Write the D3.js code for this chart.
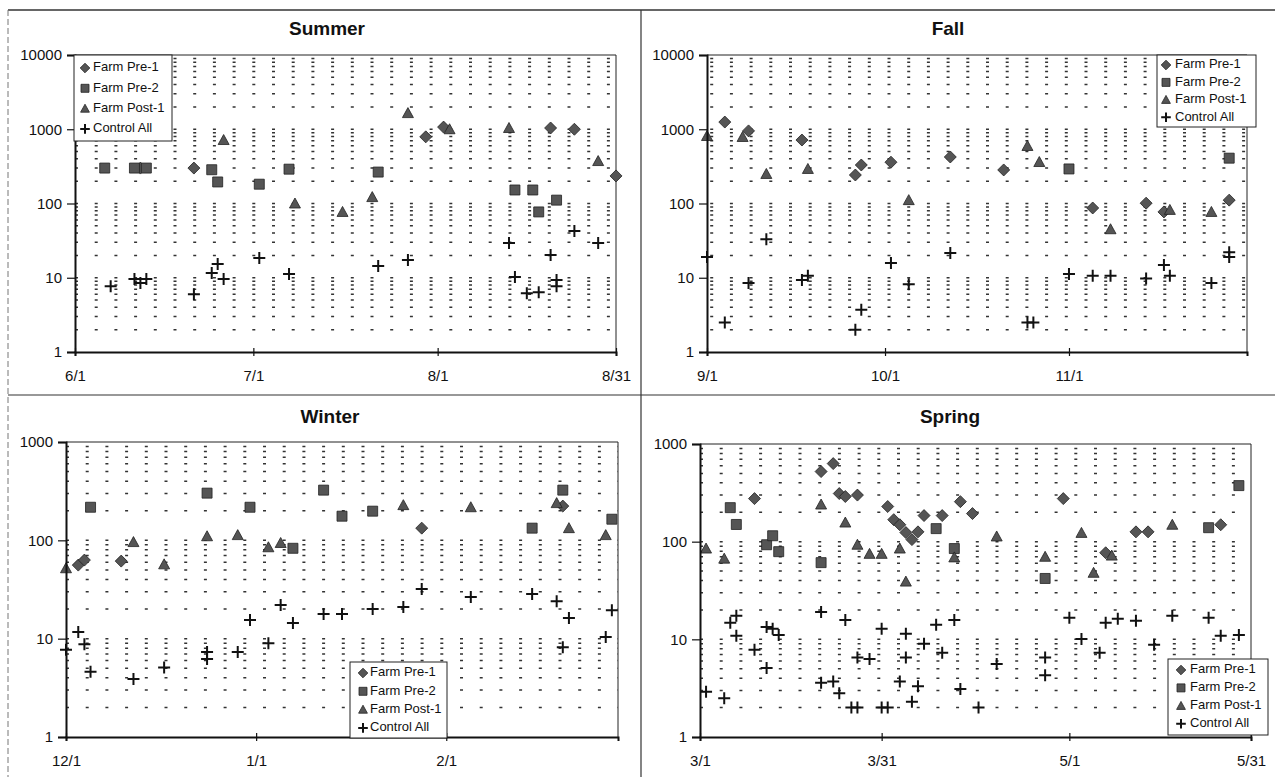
<!DOCTYPE html>
<html>
<head>
<meta charset="utf-8">
<script src="https://cdnjs.cloudflare.com/ajax/libs/d3/7.8.5/d3.min.js"></script>
<style>
body { margin: 0; background: #fff; }
svg { display: block; font-family: "Liberation Sans", Arial, sans-serif; }
</style>
</head>
<body>
<svg width="1275" height="777"></svg>
<script>
const seriesNames = ['Farm Pre-1', 'Farm Pre-2', 'Farm Post-1', 'Control All']

// [date, value]
const summerPre1 = [['6/12', 300], ['6/21', 300], ['7/30', 790], ['8/2', 1070], ['8/20', 1040], ['8/24', 1000], ['8/31', 235]]
const summerPre2 = [['6/6', 300], ['6/11', 300], ['6/13', 300], ['6/24', 285], ['6/25', 195], ['7/2', 182], ['7/7', 290], ['7/22', 265], ['8/14', 152], ['8/17', 152], ['8/18', 77], ['8/21', 111]]
const summerPost1 = [['6/26', 716], ['7/8', 100], ['7/16', 77], ['7/21', 122], ['7/27', 1650], ['8/3', 1000], ['8/13', 1040], ['8/28', 373]]
const summerControl = [['6/7', 7.7], ['6/11', 9.6], ['6/12', 8.5], ['6/13', 9.6], ['6/21', 6.0], ['6/24', 11.6], ['6/25', 15.3], ['6/26', 9.6], ['7/2', 18.4], ['7/7', 11.2], ['7/22', 14.4], ['7/27', 17.3], ['8/13', 29.4], ['8/14', 10.2], ['8/16', 6.2], ['8/18', 6.4], ['8/20', 20.3], ['8/21', 9.3], ['8/21', 7.7], ['8/24', 42.6], ['8/28', 29.4]]

const fallPre1 = [['9/4', 1250], ['9/8', 950], ['9/17', 716], ['9/26', 242], ['9/27', 330], ['10/2', 360], ['10/12', 423], ['10/21', 283], ['11/5', 87], ['11/14', 101], ['11/17', 77], ['11/28', 111]]
const fallPre2 = [['11/1', 292], ['11/28', 408]]
const fallPost1 = [['9/1', 811], ['9/7', 787], ['9/11', 250], ['9/18', 292], ['10/5', 111], ['10/25', 595], ['10/27', 362], ['11/8', 45], ['11/18', 82], ['11/25', 77]]
const fallControl = [['9/1', 19], ['9/4', 2.5], ['9/8', 8.5], ['9/11', 33], ['9/17', 9.3], ['9/18', 10.6], ['9/26', 2.0], ['9/27', 3.7], ['10/2', 15.8], ['10/5', 8.2], ['10/12', 21.5], ['10/25', 2.5], ['10/26', 2.5], ['11/1', 11.2], ['11/5', 10.6], ['11/8', 10.6], ['11/14', 9.8], ['11/17', 14.9], ['11/18', 10.6], ['11/25', 8.5], ['11/28', 22], ['11/28', 19]]

const winterPre1 = [['12/3', 56], ['12/4', 63], ['12/10', 61.5], ['1/28', 133], ['2/20', 223]]
const winterPre2 = [['12/5', 217], ['12/24', 302], ['12/31', 217], ['1/7', 83], ['1/12', 324], ['1/15', 176], ['1/20', 198], ['2/15', 133], ['2/20', 324], ['2/28', 164]]
const winterPost1 = [['12/1', 52], ['12/12', 96], ['12/17', 57], ['12/24', 110], ['12/29', 113], ['1/3', 85], ['1/5', 94], ['1/25', 228], ['2/5', 217], ['2/19', 239], ['2/21', 133], ['2/27', 113]]
const winterControl = [['12/1', 7.7], ['12/3', 11.7], ['12/4', 8.8], ['12/5', 4.6], ['12/12', 3.9], ['12/17', 5.1], ['12/24', 7.3], ['12/24', 6.2], ['12/29', 7.3], ['12/31', 15.5], ['1/3', 9.0], ['1/5', 22], ['1/7', 14.4], ['1/12', 17.8], ['1/15', 17.8], ['1/20', 20], ['1/25', 21], ['1/28', 32], ['2/5', 26.5], ['2/15', 28.4], ['2/19', 24], ['2/20', 8.2], ['2/21', 16.2], ['2/27', 10.4], ['2/28', 19.5]]

const springPre1 = [['3/10', 276], ['3/21', 522], ['3/23', 630], ['3/24', 311], ['3/25', 290], ['3/27', 300], ['4/1', 229], ['4/2', 168], ['4/3', 149], ['4/4', 124], ['4/5', 105], ['4/6', 126], ['4/7', 185], ['4/10', 185], ['4/13', 257], ['4/15', 194], ['4/30', 276], ['5/7', 77], ['5/12', 126], ['5/14', 126], ['5/26', 149]]
const springPre2 = [['3/6', 223], ['3/7', 150], ['3/12', 93], ['3/13', 115], ['3/14', 79], ['3/21', 61], ['4/9', 136], ['4/12', 85], ['4/27', 42], ['5/24', 139], ['5/29', 375]]
const springPost1 = [['3/2', 85], ['3/5', 67], ['3/21', 240], ['3/25', 157], ['3/27', 93], ['3/29', 75], ['3/31', 75], ['4/3', 85], ['4/4', 39], ['4/12', 69], ['4/19', 113], ['4/27', 70], ['5/3', 123], ['5/5', 48], ['5/8', 72], ['5/18', 149]]
const springControl = [['3/2', 2.9], ['3/5', 2.5], ['3/6', 14.8], ['3/7', 17.4], ['3/7', 10.9], ['3/10', 7.8], ['3/12', 13.4], ['3/12', 5.1], ['3/13', 12.8], ['3/14', 11.1], ['3/21', 19.1], ['3/21', 3.6], ['3/23', 3.7], ['3/24', 2.8], ['3/25', 15.8], ['3/26', 2.0], ['3/27', 2.0], ['3/27', 6.5], ['3/29', 6.3], ['3/31', 12.8], ['3/31', 2.0], ['4/1', 2.0], ['4/3', 3.7], ['4/4', 11.4], ['4/4', 6.5], ['4/5', 2.3], ['4/6', 3.3], ['4/7', 9.0], ['4/9', 14.1], ['4/10', 7.3], ['4/12', 15.8], ['4/13', 3.1], ['4/16', 2.0], ['4/19', 5.6], ['4/27', 6.5], ['4/27', 4.3], ['5/1', 16.6], ['5/3', 10.1], ['5/6', 7.3], ['5/7', 14.8], ['5/9', 16.2], ['5/12', 15.5], ['5/15', 8.8], ['5/18', 17.4], ['5/24', 16.6], ['5/26', 10.9], ['5/29', 11.1]]

const summerTicks = ['6/1', '7/1', '8/1', '8/31']
const fallTicks = ['9/1', '10/1', '11/1']
const winterTicks = ['12/1', '1/1', '2/1']
const springTicks = ['3/1', '3/31', '5/1', '5/31']
const decades = [1, 10, 100, 1000, 10000]

const svg = d3.select('svg')

const toDate = (s, yearOf) => {
  const [m, d] = s.split('/').map(Number)
  return new Date(yearOf(m), m - 1, d)
}

const shapes = [
  'M0,-6L6,0L0,6L-6,0Z',
  'M-5,-5H5V5H-5Z',
  'M0,-5.5L5.5,4.5H-5.5Z',
  'M-6,0H6M0,-6V6'
]

function marker(g, i, scale) {
  const p = g.append('path')
    .attr('d', shapes[i])
    .attr('transform', 'scale(' + scale + ')')
  if (i === 3) p.attr('fill', 'none').attr('stroke', '#111').attr('stroke-width', 2 / scale)
  else p.attr('fill', '#555').attr('stroke', '#222').attr('stroke-width', 0.8 / scale)
}

const panels = [
  { title: 'Summer', tx: 327, ty: 30, series: [summerPre1, summerPre2, summerPost1, summerControl],
    ticks: summerTicks, yearOf: () => 2000, start: '6/1', end: '8/31',
    left: 75, right: 616, top: 55, bottom: 352, yMax: 10000, dashOff: 0,
    legend: { x: 74, y: 55, w: 98, h: 86, mx: 11, tx: 19, r0: 13, dy: 20.3 } },
  { title: 'Fall', tx: 948, ty: 30, series: [fallPre1, fallPre2, fallPost1, fallControl],
    ticks: fallTicks, yearOf: () => 2000, start: '9/1', end: '12/1',
    left: 707, right: 1247, top: 55, bottom: 352, yMax: 10000, dashOff: 16.5,
    legend: { x: 1157, y: 55, w: 99, h: 72, mx: 9, tx: 18, r0: 10, dy: 17.4 } },
  { title: 'Winter', tx: 330, ty: 418, series: [winterPre1, winterPre2, winterPost1, winterControl],
    ticks: winterTicks, yearOf: m => m === 12 ? 2000 : 2001, start: '12/1', end: '3/1',
    left: 66, right: 618, top: 442, bottom: 737, yMax: 1000, dashOff: 0,
    legend: { x: 350, y: 662, w: 97, h: 76, mx: 13, tx: 20, r0: 11, dy: 18.3 } },
  { title: 'Spring', tx: 950, ty: 418, series: [springPre1, springPre2, springPost1, springControl],
    ticks: springTicks, yearOf: () => 2001, start: '3/1', end: '5/31',
    left: 700, right: 1251, top: 444, bottom: 737, yMax: 1000, dashOff: 0,
    legend: { x: 1168, y: 659, w: 100, h: 76, mx: 13, tx: 22, r0: 11, dy: 17.9 } }
]

// page frame
svg.append('line').attr('x1', 8).attr('x2', 1275).attr('y1', 10).attr('y2', 10)
  .attr('stroke', '#333').attr('stroke-width', 1.5)
svg.append('line').attr('x1', 8).attr('x2', 8).attr('y1', 10).attr('y2', 777)
  .attr('stroke', '#777').attr('stroke-dasharray', '6,3')
svg.append('line').attr('x1', 641).attr('x2', 641).attr('y1', 10).attr('y2', 777)
  .attr('stroke', '#333').attr('stroke-width', 1.2)
svg.append('line').attr('x1', 8).attr('x2', 1275).attr('y1', 395).attr('y2', 395)
  .attr('stroke', '#333').attr('stroke-width', 1.2)

panels.forEach(p => {
  const x = d3.scaleTime()
    .domain([toDate(p.start, p.yearOf), toDate(p.end, p.yearOf)])
    .range([p.left, p.right])
  const y = d3.scaleLog().domain([1, p.yMax]).range([p.bottom, p.top])

  const g = svg.append('g')

  g.append('text')
    .attr('x', p.tx).attr('y', p.ty)
    .attr('text-anchor', 'middle').attr('dominant-baseline', 'middle')
    .attr('font-size', 19).attr('font-weight', 'bold').attr('fill', '#111')
    .text(p.title)

  // minor gridlines, dashed like the original
  const grid = []
  for (let k = 1; k < p.yMax; k *= 10) {
    for (let m = 2; m <= 10; m++) if (m * k < p.yMax) grid.push(m * k)
  }
  g.append('g').selectAll('line')
    .data(grid)
    .enter().append('line')
    .attr('x1', p.left).attr('x2', p.right)
    .attr('y1', d => y(d)).attr('y2', d => y(d))
    .attr('stroke', '#333').attr('stroke-width', 1.5)
    .attr('stroke-dasharray', '3,16.7')
    .attr('stroke-dashoffset', p.dashOff)

  // thin frame on top and right
  g.append('path')
    .attr('d', `M${p.left},${p.top}H${p.right}V${p.bottom}`)
    .attr('fill', 'none').attr('stroke', '#222').attr('stroke-width', 1)

  p.series.forEach((s, i) => {
    g.append('g').selectAll('g')
      .data(s)
      .enter().append('g')
      .attr('transform', d => `translate(${x(toDate(d[0], p.yearOf))},${y(d[1])})`)
      .each(function () { marker(d3.select(this), i, 1) })
  })

  // axes
  const yAxis = g.append('g')
    .attr('transform', `translate(${p.left},0)`)
    .call(d3.axisLeft(y).tickValues(decades.filter(d => d <= p.yMax))
      .tickFormat(d3.format('d')).tickSize(8).tickPadding(5))
  const xAxis = g.append('g')
    .attr('transform', `translate(0,${p.bottom})`)
    .call(d3.axisBottom(x).tickValues(p.ticks.map(t => toDate(t, p.yearOf)))
      .tickFormat(d3.timeFormat('%-m/%-d')).tickSize(4).tickPadding(14))
  xAxis.selectAll('.tick line').attr('y1', -4)
  ;[yAxis, xAxis].forEach(a => {
    a.select('.domain').attr('stroke', '#111').attr('stroke-width', 2)
    a.selectAll('.tick line').attr('stroke', '#111').attr('stroke-width', 1.2)
    a.selectAll('text').attr('font-size', 15).attr('fill', '#111')
      .attr('font-family', '"Liberation Sans", Arial, sans-serif')
  })

  // legend
  const L = p.legend
  const lg = g.append('g').attr('transform', `translate(${L.x},${L.y})`)
  lg.append('rect').attr('width', L.w).attr('height', L.h)
    .attr('fill', '#fff').attr('stroke', '#222').attr('stroke-width', 1)
  seriesNames.forEach((name, i) => {
    const row = lg.append('g').attr('transform', `translate(0,${L.r0 + i * L.dy})`)
    const m = row.append('g').attr('transform', `translate(${L.mx},0)`)
    marker(m, i, 0.8)
    row.append('text').attr('x', L.tx).attr('dominant-baseline', 'middle')
      .attr('font-size', 13).attr('fill', '#111').text(name)
  })
})
</script>
</body>
</html>
